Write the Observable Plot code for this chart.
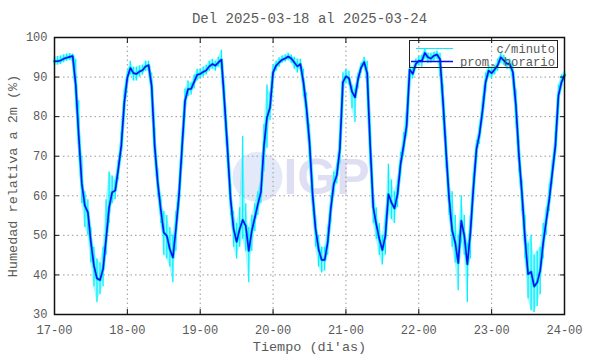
<!DOCTYPE html>
<html><head><meta charset="utf-8">
<script src="https://cdn.jsdelivr.net/npm/d3@7"></script>
<script src="https://cdn.jsdelivr.net/npm/@observablehq/plot@0.6"></script>
<style>
body{margin:0;background:#fff;}
#wrap{position:relative;width:590px;height:354px;}
#legend{position:absolute;left:409px;top:40px;width:147px;height:26px;border:1px solid #222;}
</style></head><body><div id="wrap"></div>
<script>
const title = "Del 2025-03-18 al 2025-03-24";
const xLabel = "Tiempo (di'as)";
const yLabel = "Humedad relativa a 2m (%)";
const seriesNames = ["c/minuto", "prom. horario"];
const xTickLabels = ["17-00","18-00","19-00","20-00","21-00","22-00","23-00","24-00"];
const yTicks = [30,40,50,60,70,80,90,100];

// hourly average (prom. horario), hour 0 = 17-00
const hourly = [
 94.0,94.0,94.2,94.6,94.9,95.1,95.3,88.0,75.0,63.0,57.5,55.8,48.2,42.3,39.1,38.7,41.5,49.1,57.1,60.9,61.3,66.7,72.6,83.6,
 89.9,92.3,91.0,90.8,91.4,91.7,92.7,93.0,87.8,72.6,63.4,56.6,50.7,49.9,46.5,44.4,51.6,60.0,72.0,84.0,87.0,87.0,88.8,90.6,
 90.8,91.3,91.7,92.7,93.3,92.9,93.7,94.4,83.6,71.8,59.2,51.6,48.4,51.6,53.9,52.4,46.1,51.2,54.5,57.9,60.9,72.6,79.8,82.3,
 91.2,92.9,93.7,94.4,94.7,95.2,94.7,93.7,92.7,93.3,88.7,82.3,73.5,60.5,51.6,46.5,43.8,43.8,48.2,56.6,63.0,65.2,71.8,88.7,
 90.2,89.7,86.3,84.9,89.5,92.4,93.8,91.0,72.6,57.1,52.8,49.1,46.3,49.9,60.4,58.3,56.8,60.4,68.0,72.6,77.7,91.9,90.8,93.3,
 94.1,94.1,96.1,95.0,94.7,95.4,95.7,94.5,83.6,71.0,59.2,51.2,48.2,43.0,53.7,49.9,42.7,50.7,62.1,71.8,75.6,81.5,88.7,91.6,
 91.0,91.9,93.0,95.0,94.2,93.4,93.3,91.2,82.8,70.1,60.4,49.1,40.2,40.8,37.1,38.1,41.1,48.2,53.7,59.2,65.9,72.6,85.3,88.7,
 90.5
];
// per-minute readings (c/minuto): lowest and highest value within each hour
const minuteLow = [
 93.0,93.0,93.2,93.6,94.0,94.2,94.0,84.0,70.0,58.0,52.0,50.0,43.0,37.0,33.0,35.0,37.0,45.0,53.0,58.0,59.0,64.0,70.0,80.0,
 88.0,90.5,89.0,89.0,90.0,90.5,91.5,91.5,84.0,69.0,60.0,53.0,45.0,44.0,42.0,38.0,46.0,57.0,68.0,80.0,85.0,85.5,87.0,89.0,
 89.5,90.0,90.5,91.5,92.0,91.5,92.5,92.0,79.0,68.0,55.0,47.0,44.0,47.0,49.0,46.0,38.0,46.0,51.0,55.0,58.0,66.0,72.0,79.0,
 89.0,91.5,92.5,93.5,93.8,94.2,93.5,92.0,91.0,92.0,85.0,78.0,69.0,56.0,47.0,42.0,40.5,41.0,45.0,53.0,60.0,63.0,68.0,85.0,
 88.5,88.0,82.0,78.5,87.0,91.0,92.5,87.0,68.0,53.0,49.0,45.0,42.5,45.0,56.0,54.0,53.0,57.0,65.0,70.0,75.0,89.0,89.5,92.0,
 93.0,92.5,94.5,93.5,93.5,94.0,94.5,90.0,79.0,67.0,55.0,47.0,43.0,36.0,48.0,45.0,33.0,44.0,58.0,68.0,73.0,79.0,86.0,90.0,
 89.5,90.5,91.5,93.5,93.0,92.0,92.0,88.0,78.0,66.0,56.0,44.0,34.0,31.0,30.5,32.0,35.0,44.0,50.0,56.0,63.0,70.0,82.0,87.0,
 89.5
];
const minuteHigh = [
 95.0,95.2,95.3,95.6,95.8,95.9,95.8,94.5,84.0,70.0,61.0,59.0,52.0,47.0,44.0,43.0,47.0,59.0,66.0,65.0,64.0,69.0,76.0,87.0,
 91.5,94.0,92.5,92.5,92.8,93.0,94.0,94.0,91.0,77.0,67.0,60.0,56.0,55.0,52.0,50.0,56.0,63.0,75.0,87.0,89.0,88.5,90.5,92.0,
 92.0,92.5,93.0,94.0,94.5,94.0,95.0,96.8,88.0,75.0,63.0,56.0,53.0,57.0,75.0,58.0,52.0,55.0,58.0,61.0,64.0,78.0,88.0,86.0,
 93.0,94.0,94.8,95.3,95.6,96.0,95.6,95.0,94.5,94.5,92.0,86.0,78.0,65.0,55.0,50.0,47.0,47.0,52.0,60.0,66.0,68.0,76.0,91.0,
 92.0,91.5,88.0,87.0,91.0,93.5,95.0,94.0,78.0,62.0,57.0,53.0,50.0,55.0,68.0,64.0,61.0,64.0,71.0,76.0,83.0,93.5,92.5,94.5,
 95.2,95.5,97.2,96.0,96.0,96.3,96.5,96.0,88.0,75.0,63.0,61.0,55.0,50.0,60.0,55.0,48.0,55.0,66.0,74.0,78.0,85.0,91.0,93.0,
 92.5,93.0,94.5,96.0,95.5,94.5,94.5,93.5,87.0,74.0,64.0,55.0,48.0,50.0,45.0,46.0,47.0,53.0,57.0,63.0,69.0,76.0,88.0,90.5,
 91.5
];

const data = hourly.map((v, i) => ({t: i, v, lo: minuteLow[i], hi: minuteHigh[i]}));
const xTicks = xTickLabels.map((_, i) => i * 24);
const mono = "'Liberation Mono', 'DejaVu Sans Mono', monospace";
const textColor = "#5a5a5a";
const cyan = "#00f0ff";
const blue = "#0a0aee";

const chart = Plot.plot({
  width: 590, height: 354,
  marginTop: 37, marginBottom: 40, marginLeft: 54, marginRight: 26,
  style: {fontFamily: mono, fontSize: "12px", color: textColor, background: "transparent"},
  x: {domain: [0, 168]},
  y: {domain: [30, 100]},
  marks: [
    Plot.dot([0], {frameAnchor: "middle", dx: -52, dy: 1, r: 25, fill: "#e4e9f9", stroke: null}),
    Plot.text(["IGP"], {frameAnchor: "middle", dx: 17, dy: 2, fontSize: 50, fontWeight: "bold", fontFamily: "'Liberation Sans', Arial, sans-serif", fill: "#dfdff3"}),
    Plot.gridX(xTicks, {stroke: "#999", strokeOpacity: 1, strokeDasharray: "1.5,3"}),
    Plot.gridY(yTicks, {stroke: "#999", strokeOpacity: 1, strokeDasharray: "1.5,3"}),
    Plot.areaY(data, {x: "t", y1: "lo", y2: "hi", fill: cyan, fillOpacity: 0.35}),
    Plot.ruleX(data, {x: "t", y1: "lo", y2: "hi", stroke: cyan, strokeWidth: 1.3}),
    Plot.lineY(data, {x: "t", y: "v", stroke: cyan, strokeWidth: 3.2}),
    Plot.lineY(data, {x: "t", y: "v", stroke: blue, strokeWidth: 1.6}),
    Plot.frame({stroke: "#111", strokeWidth: 1.5}),
    Plot.axisX(xTicks, {anchor: "bottom", tickSize: -5, tickPadding: 16, tickFormat: d => xTickLabels[d / 24], label: null, stroke: "#111"}),
    Plot.axisX(xTicks, {anchor: "top", tickSize: -5, tickFormat: () => "", label: null, stroke: "#111"}),
    Plot.axisY(yTicks, {anchor: "left", tickSize: -5, tickPadding: 12, label: null, stroke: "#111"}),
    Plot.axisY(yTicks, {anchor: "right", tickSize: -5, tickFormat: () => "", label: null, stroke: "#111"}),
    Plot.text([title], {frameAnchor: "top", dy: -19, fontSize: 14, fill: textColor, lineAnchor: "middle"}),
    Plot.text([xLabel], {frameAnchor: "bottom", dy: 32, fontSize: 13.5, fill: textColor, lineAnchor: "middle"}),
    Plot.text([yLabel], {frameAnchor: "left", dx: -42, rotate: -90, fontSize: 13.5, fill: textColor, textAnchor: "middle", lineAnchor: "middle"})
  ]
});
const wrap = document.getElementById("wrap");
wrap.appendChild(chart);

// legend
const lg = document.createElement("div");
lg.id = "legend";
const colors = [cyan, blue];
const svgNS = "http://www.w3.org/2000/svg";
const svg = document.createElementNS(svgNS, "svg");
svg.setAttribute("width", 147); svg.setAttribute("height", 26);
seriesNames.forEach((name, i) => {
  const yy = 7.5 + i * 13;
  const ln = document.createElementNS(svgNS, "line");
  ln.setAttribute("x1", i ? 1 : 6); ln.setAttribute("x2", 43);
  ln.setAttribute("y1", yy); ln.setAttribute("y2", yy);
  ln.setAttribute("stroke", colors[i]); ln.setAttribute("stroke-width", i ? 1.6 : 1);
  svg.appendChild(ln);
  const tx = document.createElementNS(svgNS, "text");
  tx.setAttribute("x", 145); tx.setAttribute("y", yy + 4);
  tx.setAttribute("text-anchor", "end");
  tx.setAttribute("font-family", "Liberation Mono, monospace");
  tx.setAttribute("font-size", "12.2");
  tx.setAttribute("fill", textColor);
  tx.textContent = name;
  svg.appendChild(tx);
});
lg.appendChild(svg);
wrap.appendChild(lg);
</script></body></html>
